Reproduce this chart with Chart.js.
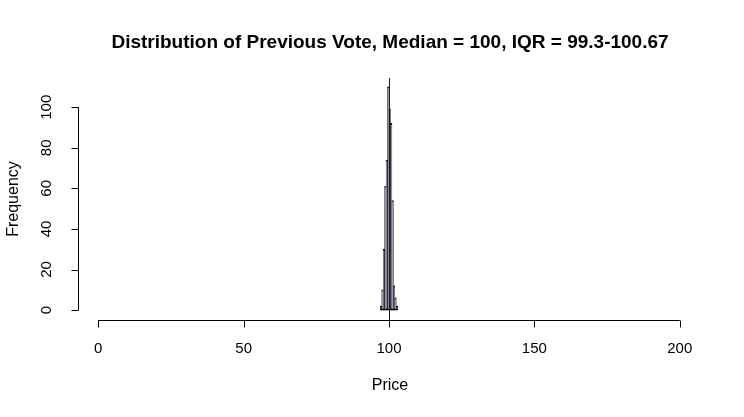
<!DOCTYPE html>
<html>
<head>
<meta charset="utf-8">
<script src="https://cdn.jsdelivr.net/npm/chart.js@4/dist/chart.umd.min.js"></script>
<style>
html,body{margin:0;padding:0;background:#fff;}
#wrap{width:744px;height:417px;}
</style>
</head>
<body>
<div id="wrap"><canvas id="c" width="744" height="417"></canvas></div>
<script>
const binStarts = [97, 97.5, 98, 98.5, 99, 99.5, 100, 100.5, 101, 101.5, 102, 102.5];
const binWidth = 0.5;
const counts = [2, 10, 30, 61, 74, 110, 99, 92, 54, 12, 6, 2];
const xTicks = [0, 50, 100, 150, 200];
const yTicks = [0, 20, 40, 60, 80, 100];
const medianValue = 100;
const titleText = 'Distribution of Previous Vote, Median = 100, IQR = 99.3-100.67';
const xLabel = 'Price';
const yLabel = 'Frequency';

const FONT = '"Liberation Sans", Arial, Helvetica, sans-serif';

const barData = binStarts.map((s, i) => ({x: s + binWidth / 2, y: counts[i]}));

const rAxes = {
  id: 'rAxes',
  afterDatasetsDraw(chart) {
    const ctx = chart.ctx;
    const xs = chart.scales.x, ys = chart.scales.y;
    const ca = chart.chartArea;
    ctx.save();
    // median line
    const mx = Math.round(xs.getPixelForValue(medianValue)) + 0.5;
    ctx.strokeStyle = '#0000ff';
    ctx.lineWidth = 1;
    ctx.beginPath();
    ctx.moveTo(mx, ca.top);
    ctx.lineTo(mx, ca.bottom + 1);
    ctx.stroke();

    ctx.strokeStyle = '#000';
    ctx.fillStyle = '#000';
    ctx.lineWidth = 1;
    // x axis
    const axY = ca.bottom + 1.5;
    const x0 = xs.getPixelForValue(xTicks[0]);
    const x1 = xs.getPixelForValue(xTicks[xTicks.length - 1]);
    ctx.beginPath();
    ctx.moveTo(x0, axY); ctx.lineTo(x1, axY);
    xTicks.forEach(v => {
      const p = Math.round(xs.getPixelForValue(v)) + 0.5;
      ctx.moveTo(p, axY); ctx.lineTo(p, axY + 7);
    });
    ctx.stroke();
    ctx.font = '15px ' + FONT;
    ctx.textAlign = 'center';
    ctx.textBaseline = 'middle';
    xTicks.forEach(v => {
      ctx.fillText(String(v), xs.getPixelForValue(v), 349);
    });
    // y axis
    const axX = ca.left + 3.5;
    const y0 = ys.getPixelForValue(yTicks[0]);
    const y1 = ys.getPixelForValue(yTicks[yTicks.length - 1]);
    ctx.beginPath();
    ctx.moveTo(axX, y0); ctx.lineTo(axX, y1);
    yTicks.forEach(v => {
      const p = Math.round(ys.getPixelForValue(v)) + 0.5;
      ctx.moveTo(axX, p); ctx.lineTo(axX - 7, p);
    });
    ctx.stroke();
    yTicks.forEach(v => {
      ctx.save();
      ctx.translate(47, ys.getPixelForValue(v));
      ctx.rotate(-Math.PI / 2);
      ctx.fillText(String(v), 0, 0);
      ctx.restore();
    });
    // axis titles
    ctx.font = '16px ' + FONT;
    ctx.fillText(xLabel, 390, 386);
    ctx.save();
    ctx.translate(14, 199);
    ctx.rotate(-Math.PI / 2);
    ctx.fillText(yLabel, 0, 0);
    ctx.restore();
    // main title
    ctx.font = 'bold 19px ' + FONT;
    ctx.fillText(titleText, 390, 43);
    ctx.restore();
  }
};

new Chart(document.getElementById('c'), {
  type: 'bar',
  data: {
    datasets: [{
      data: barData,
      backgroundColor: '#9a9ab8',
      borderColor: '#000',
      borderWidth: 1.3,
      barPercentage: 1,
      categoryPercentage: 1,
      borderSkipped: false
    }]
  },
  options: {
    responsive: false,
    animation: false,
    devicePixelRatio: 1,
    layout: {padding: {left: 75, right: 41, top: 78, bottom: 98}},
    plugins: {legend: {display: false}, tooltip: {enabled: false}, title: {display: false}},
    scales: {
      x: {type: 'linear', min: -8, max: 208, display: false, offset: false},
      y: {type: 'linear', min: -4.4, max: 114.4, display: false}
    }
  },
  plugins: [rAxes]
});
</script>
</body>
</html>
